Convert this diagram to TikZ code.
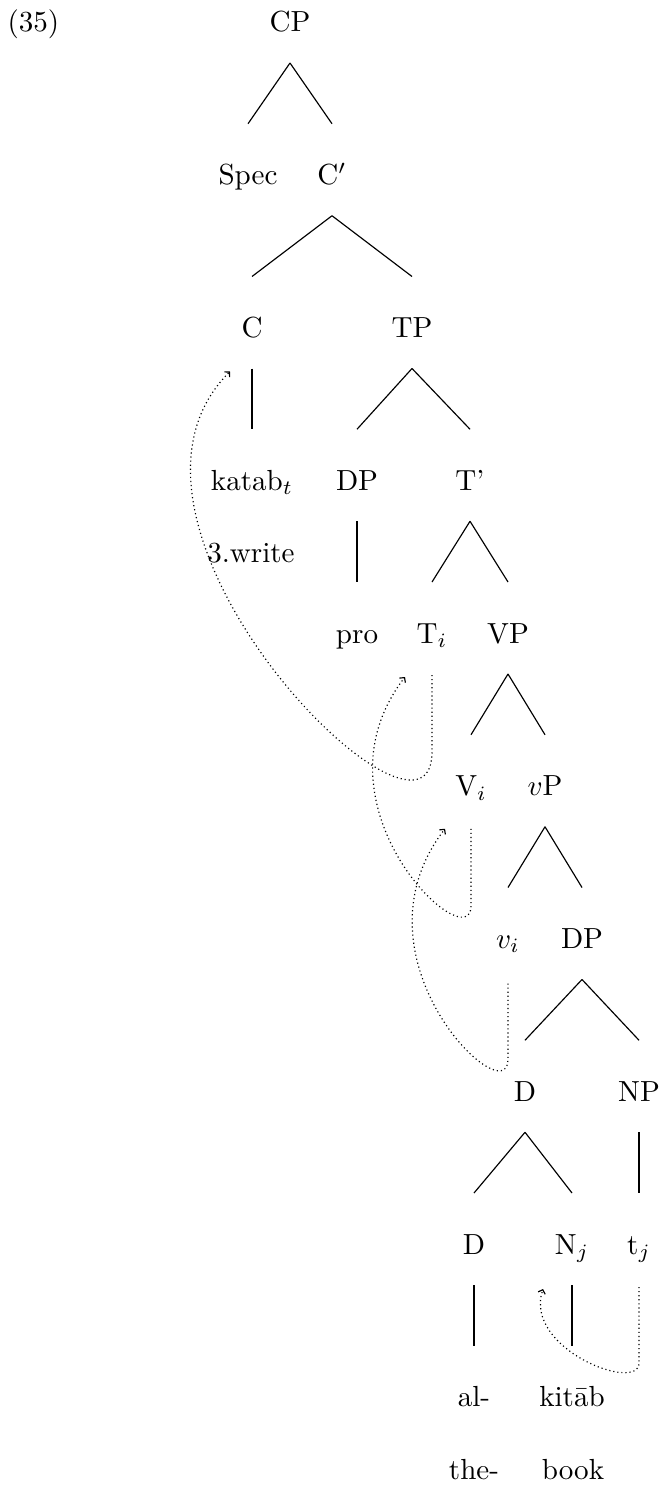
\documentclass[tikz,border=0pt]{standalone}
\usetikzlibrary{calc,arrows.meta}
\begin{document}
\begin{tikzpicture}[x=0.344pt,y=0.344pt,
  lbl/.style={anchor=base,inner sep=0pt},
  branch/.style={black,line width=0.4pt},
  trace/.style={black,densely dotted,line width=0.4pt,-{Straight Barb[length=1.2pt,width=2.6pt]}}]

\useasboundingbox (0,0) rectangle (661,-1488);

% labels
\node[lbl,anchor=base west] (ex) at (7,-32) {(35)};
\node[lbl] (cp) at (290,-32) {CP};
\node[lbl] (spec) at (248,-184.75) {Spec};
\node[lbl] (cbar) at (332,-184.75) {C$'$};
\node[lbl] (c) at (252,-337.5) {C};
\node[lbl] (tp) at (412,-337.5) {TP};
\node[lbl] (katab) at (252,-490.25) {katab$_t$};
\node[lbl] (write) at (251,-562) {3.write};
\node[lbl] (dp) at (357,-490.25) {DP};
\node[lbl] (tbar) at (470,-490.25) {T'};
\node[lbl] (pro) at (357,-643) {pro};
\node[lbl] (ti) at (432,-643) {T$_i$};
\node[lbl] (vp) at (508,-643) {VP};
\node[lbl] (vi) at (471,-795.75) {V$_i$};
\node[lbl] (vsp) at (545,-795.75) {$v$P};
\node[lbl] (vs) at (508,-948.5) {$v_i$};
\node[lbl] (dpb) at (582,-948.5) {DP};
\node[lbl] (da) at (525,-1101.25) {D};
\node[lbl] (np) at (639,-1101.25) {NP};
\node[lbl] (db) at (474,-1254) {D};
\node[lbl] (nj) at (572,-1254) {N$_j$};
\node[lbl] (tj) at (639,-1254) {t$_j$};
\node[lbl] (al) at (474,-1406.75) {al-};
\node[lbl] (kitab) at (572,-1406.75) {kit\=ab};
\node[lbl] (the) at (474,-1479.75) {the-};
\node[lbl] (book) at (573,-1479.75) {book};

% branches
\draw[branch] ($(cp.base)+(0,-31)$) -- ($(spec.base)+(0,61)$);
\draw[branch] ($(cp.base)+(0,-31)$) -- ($(cbar.base)+(0,61)$);
\draw[branch] ($(cbar.base)+(0,-31)$) -- ($(c.base)+(0,61)$);
\draw[branch] ($(cbar.base)+(0,-31)$) -- ($(tp.base)+(0,61)$);
\draw[branch] ($(c.base)+(0,-31)$) -- ($(katab.base)+(0,61)$);
\draw[branch] ($(tp.base)+(0,-31)$) -- ($(dp.base)+(0,61)$);
\draw[branch] ($(tp.base)+(0,-31)$) -- ($(tbar.base)+(0,61)$);
\draw[branch] ($(dp.base)+(0,-31)$) -- ($(pro.base)+(0,61)$);
\draw[branch] ($(tbar.base)+(0,-31)$) -- ($(ti.base)+(0,61)$);
\draw[branch] ($(tbar.base)+(0,-31)$) -- ($(vp.base)+(0,61)$);
\draw[branch] ($(vp.base)+(0,-31)$) -- ($(vi.base)+(0,61)$);
\draw[branch] ($(vp.base)+(0,-31)$) -- ($(vsp.base)+(0,61)$);
\draw[branch] ($(vsp.base)+(0,-31)$) -- ($(vs.base)+(0,61)$);
\draw[branch] ($(vsp.base)+(0,-31)$) -- ($(dpb.base)+(0,61)$);
\draw[branch] ($(dpb.base)+(0,-31)$) -- ($(da.base)+(0,61)$);
\draw[branch] ($(dpb.base)+(0,-31)$) -- ($(np.base)+(0,61)$);
\draw[branch] ($(da.base)+(0,-31)$) -- ($(db.base)+(0,61)$);
\draw[branch] ($(da.base)+(0,-31)$) -- ($(nj.base)+(0,61)$);
\draw[branch] ($(np.base)+(0,-31)$) -- ($(tj.base)+(0,61)$);
\draw[branch] ($(db.base)+(0,-31)$) -- ($(al.base)+(0,61)$);
\draw[branch] ($(nj.base)+(0,-31)$) -- ($(kitab.base)+(0,61)$);

% movement
\draw[trace] ($(ti.base)+(0,-32)$) -- ($(ti.base)+(0,-109)$)
  .. controls +(0,-130) and +(-155,-155) .. ($(c.base)+(-22,-34)$);
\draw[trace] ($(vi.base)+(0,-33)$) -- ($(vi.base)+(0,-110)$)
  .. controls +(0,-55) and +(-100,-130) .. ($(ti.base)+(-27,-34)$);
\draw[trace] ($(vs.base)+(0,-35)$) -- ($(vs.base)+(0,-111)$)
  .. controls +(0,-55) and +(-100,-130) .. ($(vi.base)+(-26,-33)$);
\draw[trace] ($(tj.base)+(0,-33)$) -- ($(tj.base)+(0,-109)$)
  .. controls +(0,-30) and +(-20,-60) .. ($(nj.base)+(-29,-35)$);
\end{tikzpicture}
\end{document}
